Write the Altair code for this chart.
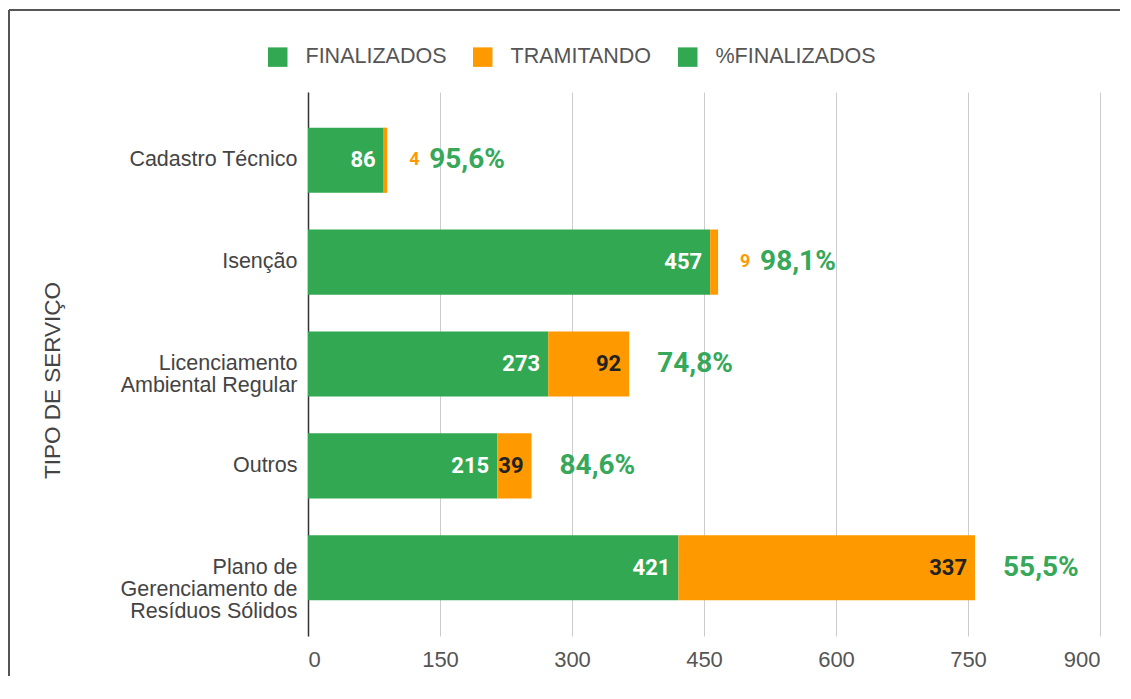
import altair as alt
import pandas as pd

categories = ["Cadastro Técnico", "Isenção", "Licenciamento\nAmbiental Regular", "Outros",
              "Plano de\nGerenciamento de\nResíduos Sólidos"]
finalizados = [86, 457, 273, 215, 421]
tramitando = [4, 9, 92, 39, 337]
pct_labels = ["95,6%", "98,1%", "74,8%", "84,6%", "55,5%"]
series_names = ["FINALIZADOS", "TRAMITANDO", "%FINALIZADOS"]
x_ticks = [0, 150, 300, 450, 600, 750, 900]

GREEN = "#33a852"
ORANGE = "#ff9900"
PCT_GREEN = "#37a85a"

long_rows = []
for c, f, t in zip(categories, finalizados, tramitando):
    long_rows.append({"cat": c, "serie": series_names[0], "valor": f, "ordem": 0})
    long_rows.append({"cat": c, "serie": series_names[1], "valor": t, "ordem": 1})
long_df = pd.DataFrame(long_rows)

wide_df = pd.DataFrame({
    "cat": categories,
    "fin": finalizados,
    "tram": tramitando,
    "pct": pct_labels,
})
wide_df["total"] = wide_df["fin"] + wide_df["tram"]

y_scale = alt.Scale(paddingInner=0.36, paddingOuter=0.35)
y_enc = alt.Y("cat:N", sort=categories, scale=y_scale,
              axis=alt.Axis(title="TIPO DE SERVIÇO", labelExpr="split(datum.label, '\\n')",
                            labelFont="Liberation Sans", labelFontSize=21.5, labelColor="#444",
                            labelLineHeight=22, labelPadding=11, ticks=False,
                            domainColor="#333", domainWidth=1.5,
                            titleFont="Liberation Sans", titleFontSize=22.5, titleFontWeight="normal",
                            titleColor="#444", titleAngle=-90, titleX=-256, titleY=288,
                            titleAlign="center", titleBaseline="middle"))
x_scale = alt.Scale(domain=[0, 900], nice=False)
x_axis = alt.Axis(title=None, values=x_ticks, domain=False, ticks=False, grid=True,
                  gridColor="#cccccc", gridWidth=1, labelFont="Liberation Sans",
                  labelFontSize=22, labelColor="#555", labelPadding=13)

bars = alt.Chart(long_df).mark_bar().encode(
    y=y_enc,
    x=alt.X("valor:Q", stack="zero", scale=x_scale, axis=x_axis),
    color=alt.Color("serie:N", scale=alt.Scale(domain=series_names, range=[GREEN, ORANGE, GREEN]),
                    legend=alt.Legend(title=None, orient="none", legendX=-41, legendY=-46,
                                      direction="horizontal", symbolType="square",
                                      symbolSize=380, symbolStrokeWidth=0, symbolOpacity=1,
                                      labelFont="Liberation Sans", labelFontSize=21.5,
                                      labelLimit=400, labelColor="#555", columnPadding=25,
                                      labelOffset=17)),
    order=alt.Order("ordem:Q"),
)

fin_text = alt.Chart(wide_df).mark_text(
    align="right", baseline="middle", dx=-8, font="Roboto", fontWeight="bold",
    fontSize=22, color="white"
).encode(y=alt.Y("cat:N", sort=categories), x=alt.X("fin:Q"), text="fin:Q")

tram_in = alt.Chart(wide_df).transform_filter("datum.tram >= 20").mark_text(
    align="right", baseline="middle", dx=-8, font="Roboto", fontWeight="bold",
    fontSize=22, color="#222"
).encode(y=alt.Y("cat:N", sort=categories), x=alt.X("total:Q"), text="tram:Q")

tram_out = alt.Chart(wide_df).transform_filter("datum.tram < 20").mark_text(
    align="left", baseline="middle", dx=22, font="Roboto", fontWeight="bold",
    fontSize=18, color=ORANGE
).encode(y=alt.Y("cat:N", sort=categories), x=alt.X("total:Q"), text="tram:Q")

pct_a = alt.Chart(wide_df).transform_filter("datum.tram >= 20").mark_text(
    align="left", baseline="middle", dx=28, font="Roboto", fontWeight="bold",
    fontSize=28, color=PCT_GREEN
).encode(y=alt.Y("cat:N", sort=categories), x=alt.X("total:Q"), text="pct:N")

pct_b = alt.Chart(wide_df).transform_filter("datum.tram < 20").mark_text(
    align="left", baseline="middle", dx=42, font="Roboto", fontWeight="bold",
    fontSize=28, color=PCT_GREEN
).encode(y=alt.Y("cat:N", sort=categories), x=alt.X("total:Q"), text="pct:N")

frame_left = alt.Chart(wide_df.head(1)).mark_rule(color="#555", strokeWidth=2).encode(
    x=alt.value(-299), y=alt.value(-82), y2=alt.value(584))
frame_top = alt.Chart(wide_df.head(1)).mark_rule(color="#555", strokeWidth=2).encode(
    x=alt.value(-299), x2=alt.value(812), y=alt.value(-82))

chart = alt.layer(bars, fin_text, tram_in, tram_out, pct_a, pct_b, frame_left, frame_top).properties(
    width=792, height=544, padding={"left": 0, "top": 1, "right": 0, "bottom": 0}
).configure(background="white").configure_view(stroke=None)

chart.save("out.html", embed_options={"renderer": "svg", "actions": False})
